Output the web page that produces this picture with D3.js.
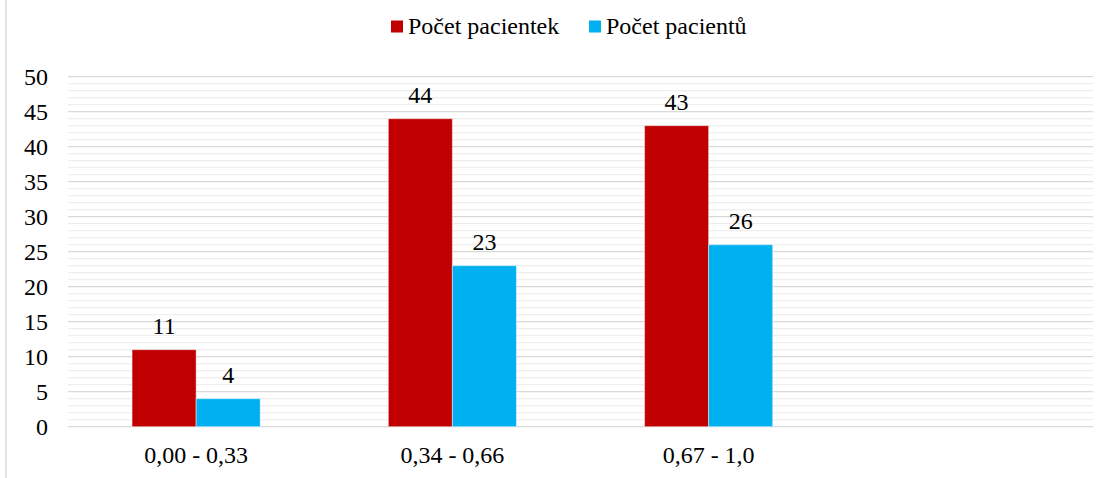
<!DOCTYPE html>
<html>
<head>
<meta charset="utf-8">
<script src="https://cdn.jsdelivr.net/npm/d3@7"></script>
<style>
  html, body { margin: 0; padding: 0; background: #fff; }
  svg { display: block; }
</style>
</head>
<body>
<svg id="chart" width="1109" height="478"></svg>
<script>
// Category intervals (the fourth slot is an empty row in the source table)
const categories = ["0,00 - 0,33", "0,34 - 0,66", "0,67 - 1,0", ""];
const seriesNames = ["Počet pacientek", "Počet pacientů"];
const seriesColors = ["#c00000", "#00b0f0"];
const pacientky = [11, 44, 43, null];
const pacienti = [4, 23, 26, null];
const yTicks = [0, 5, 10, 15, 20, 25, 30, 35, 40, 45, 50];

const seriesValues = [pacientky, pacienti];

const W = 1109, H = 478;
const plot = { left: 68, right: 1093, top: 76.7, bottom: 426.7 };
const fontSize = 24;
const FONT = "Liberation Serif";

const svg = d3.select("#chart");

// Outer frame line on the left edge
svg.append("line")
  .attr("x1", 6).attr("x2", 6).attr("y1", 0).attr("y2", H)
  .attr("stroke", "#d9d9d9").attr("stroke-width", 1.5);

const x = d3.scaleBand()
  .domain(categories)
  .range([plot.left, plot.right])
  .paddingInner(0.5)
  .paddingOuter(0.25);

const xs = d3.scaleBand()
  .domain(seriesNames)
  .range([0, x.bandwidth()]);

const y = d3.scaleLinear().domain([0, 50]).range([plot.bottom, plot.top]);

// Minor gridlines every unit, major at each labelled tick
const grid = svg.append("g");
const minor = d3.range(0, 51).filter(v => v % 5 !== 0);
grid.selectAll("line.minor").data(minor).join("line")
  .attr("class", "minor")
  .attr("x1", plot.left).attr("x2", plot.right)
  .attr("y1", d => y(d)).attr("y2", d => y(d))
  .attr("stroke", "#eeeeee").attr("stroke-width", 1.3);
grid.selectAll("line.major").data(yTicks).join("line")
  .attr("class", "major")
  .attr("x1", plot.left).attr("x2", plot.right)
  .attr("y1", d => y(d)).attr("y2", d => y(d))
  .attr("stroke", "#d9d9d9").attr("stroke-width", 1.3);

// Y axis labels
const yAxis = d3.axisLeft(y).tickValues(yTicks).tickSize(0).tickPadding(20)
  .tickFormat(d3.format("d"));
svg.append("g")
  .attr("transform", `translate(${plot.left},0)`)
  .call(yAxis)
  .call(g => g.select(".domain").remove())
  .call(g => g.selectAll("text")
    .attr("font-family", FONT)
    .attr("font-size", fontSize)
    .attr("fill", "#000")
    .attr("dy", "0.34em"));

// X axis labels
const xAxis = d3.axisBottom(x).tickSize(0).tickPadding(0);
svg.append("g")
  .attr("transform", `translate(0,${plot.bottom})`)
  .call(xAxis)
  .call(g => g.select(".domain").remove())
  .call(g => g.selectAll("text")
    .attr("font-family", FONT)
    .attr("font-size", fontSize)
    .attr("fill", "#000")
    .attr("y", 36)
    .attr("dy", 0));

// Bars and value labels
const rows = [];
categories.forEach((c, i) => {
  seriesNames.forEach((s, j) => {
    const v = seriesValues[j][i];
    if (v != null) rows.push({ c, s, v, color: seriesColors[j] });
  });
});

svg.append("g").selectAll("rect").data(rows).join("rect")
  .attr("x", d => x(d.c) + xs(d.s))
  .attr("y", d => y(d.v))
  .attr("width", xs.bandwidth())
  .attr("height", d => y(0) - y(d.v))
  .attr("fill", d => d.color)
  .attr("stroke", "#ffffff")
  .attr("stroke-opacity", 0.45)
  .attr("stroke-width", 1);

svg.append("g")
  .selectAll("text").data(rows).join("text")
  .attr("x", d => x(d.c) + xs(d.s) + xs.bandwidth() / 2)
  .attr("y", d => y(d.v) - 16)
  .attr("text-anchor", "middle")
  .attr("font-family", FONT)
  .attr("font-size", fontSize)
  .attr("fill", "#000")
  .text(d => d.v);

// Legend
const legendItems = [
  { name: seriesNames[0], color: seriesColors[0], x: 391 },
  { name: seriesNames[1], color: seriesColors[1], x: 589 }
];
const lg = svg.append("g")
  .selectAll("g").data(legendItems).join("g")
  .attr("transform", d => `translate(${d.x},0)`);
lg.append("rect")
  .attr("x", 0).attr("y", 20.5).attr("width", 12).attr("height", 12)
  .attr("fill", d => d.color);
lg.append("text")
  .attr("x", 17).attr("y", 34)
  .attr("font-family", FONT)
  .attr("font-size", fontSize)
  .attr("fill", "#000")
  .text(d => d.name);
</script>
</body>
</html>
